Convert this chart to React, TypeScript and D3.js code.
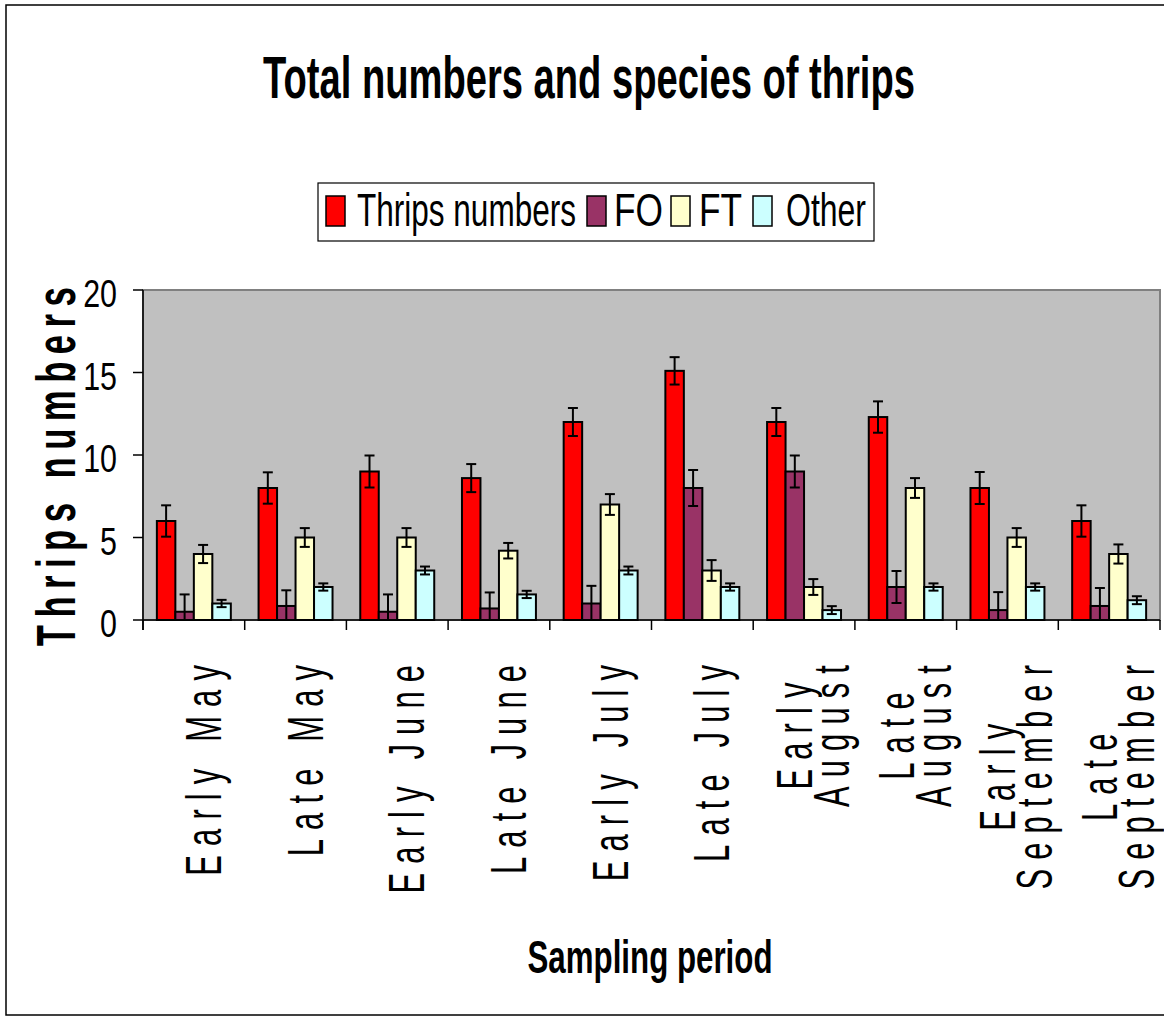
import * as d3 from 'd3';

const categories = [
  'Early May', 'Late May', 'Early June', 'Late June', 'Early July',
  'Late July', 'Early August', 'Late August', 'Early September', 'Late September',
];
// how each category label is broken over lines on the axis
const tickLines = [
  ['Early May'], ['Late May'], ['Early June'], ['Late June'], ['Early July'],
  ['Late July'], ['Early', 'August'], ['Late', 'August'], ['Early', 'September'], ['Late', 'September'],
];

const seriesNames = ['Thrips numbers', 'FO', 'FT', 'Other'];
const seriesColors = ['#FF0000', '#993366', '#FFFFCC', '#CCFFFF'];

const thrips = [6, 8, 9, 8.6, 12, 15.1, 12, 12.3, 8, 6];
const fo = [0.5, 0.85, 0.5, 0.7, 1, 8, 9, 2, 0.6, 0.85];
const ft = [4, 5, 5, 4.2, 7, 3, 2, 8, 5, 4];
const other = [1, 2, 3, 1.55, 3, 2, 0.6, 2, 2, 1.2];

const thripsErr = [0.95, 0.95, 0.97, 0.85, 0.85, 0.83, 0.85, 0.95, 0.97, 0.95];
const foErr = [1.05, 0.95, 1.05, 0.97, 1.07, 1.09, 0.97, 0.97, 1.09, 1.09];
const ftErr = [0.55, 0.57, 0.57, 0.47, 0.63, 0.63, 0.48, 0.6, 0.57, 0.58];
const otherErr = [0.22, 0.22, 0.24, 0.22, 0.24, 0.22, 0.24, 0.22, 0.22, 0.24];

const yTicks = [0, 5, 10, 15, 20];

const values = [thrips, fo, ft, other];
const errors = [thripsErr, foErr, ftErr, otherErr];

const W = 1164;
const H = 1019;
const plot = { left: 143, right: 1160, top: 290, bottom: 620 };
const FONT = "'Liberation Sans', Arial, sans-serif";

// x labels: spaced-out, squeezed text
const LBL_SIZE = 50;
const LBL_SX = 0.62;
const LBL_LS = 14.7;

let ctx: CanvasRenderingContext2D | null = null;
function measure(s: string, font: string) {
  if (!ctx) ctx = document.createElement('canvas').getContext('2d');
  if (!ctx) return s.length * 25;
  ctx.font = font;
  return ctx.measureText(s).width;
}

// squeeze a horizontal text to a given width
function Fitted(props: { x: number; y: number; w: number; size: number; bold?: boolean; anchor?: string; children: string }) {
  const font = `${props.bold ? 'bold ' : ''}${props.size}px ${FONT}`;
  const sx = props.w / measure(props.children, font);
  return (
    <text transform={`translate(${props.x},${props.y}) scale(${sx},1)`} textAnchor={props.anchor || 'start'}
      fontFamily={FONT} fontWeight={props.bold ? 'bold' : 'normal'} fontSize={props.size}>
      {props.children}
    </text>
  );
}

// legend layout
const legendSwatchX = [326, 587, 671, 753];
const legendTextX = [357, 614, 699, 786];
const legendTextW = [219, 49, 43, 80];

export default function App() {
  const x = d3.scaleBand<string>().domain(categories).range([plot.left, plot.right]);
  const xs = d3.scaleBand<string>().domain(seriesNames).range([0, x.bandwidth()]).paddingOuter(0.75);
  const y = d3.scaleLinear().domain([0, 20]).range([plot.bottom, plot.top]);

  const boundaries = categories.map((c) => x(c)!).concat([plot.right]);

  return (
    <svg width={W} height={H} style={{ position: 'absolute', left: 0, top: 0, background: '#fff' }}>
      <defs>
        <clipPath id="plotclip">
          <rect x={plot.left} y={plot.top} width={plot.right - plot.left} height={plot.bottom - plot.top} />
        </clipPath>
      </defs>
      {/* chart border */}
      <rect x={6} y={5} width={1200} height={1010} fill="none" stroke="#000" strokeWidth={1.5} />

      <Fitted x={589} y={98} w={652} size={60} bold anchor="middle">
        Total numbers and species of thrips
      </Fitted>

      {/* legend */}
      <rect x={318} y={183} width={556} height={58} fill="#fff" stroke="#000" strokeWidth={1.2} />
      {seriesNames.map((s, i) => (
        <g key={s}>
          <rect x={legendSwatchX[i]} y={196} width={19} height={30} fill={seriesColors[i]} stroke="#000" strokeWidth={1.5} />
          <Fitted x={legendTextX[i]} y={226} w={legendTextW[i]} size={46}>{s}</Fitted>
        </g>
      ))}

      {/* plot area */}
      <rect x={plot.left} y={plot.top} width={plot.right - plot.left} height={plot.bottom - plot.top}
        fill="#C0C0C0" stroke="#808080" strokeWidth={2} />

      {/* bars */}
      {categories.map((c, ci) => (
        <g key={c} transform={`translate(${x(c)},0)`}>
          {seriesNames.map((s, si) => (
            <rect key={s} x={xs(s)} y={y(values[si][ci])} width={xs.bandwidth()}
              height={y(0) - y(values[si][ci])} fill={seriesColors[si]} stroke="#000" strokeWidth={2} />
          ))}
        </g>
      ))}

      {/* error bars */}
      <g clipPath="url(#plotclip)" stroke="#000" strokeWidth={2}>
        {categories.map((c, ci) =>
          seriesNames.map((s, si) => {
            const cx = x(c)! + xs(s)! + xs.bandwidth() / 2;
            const v = values[si][ci];
            const e = errors[si][ci];
            const hi = y(v + e);
            const lo = y(v - e);
            return (
              <g key={c + s}>
                <line x1={cx} x2={cx} y1={hi} y2={lo} />
                <line x1={cx - 5} x2={cx + 5} y1={hi} y2={hi} />
                <line x1={cx - 5} x2={cx + 5} y1={lo} y2={lo} />
              </g>
            );
          })
        )}
      </g>

      {/* axes */}
      <line x1={plot.left} x2={plot.left} y1={plot.top} y2={plot.bottom + 10} stroke="#000" strokeWidth={1.5} />
      <line x1={plot.left} x2={plot.right} y1={plot.bottom} y2={plot.bottom} stroke="#000" strokeWidth={1.5} />
      {yTicks.map((t) => (
        <g key={t}>
          <line x1={plot.left - 10} x2={plot.left} y1={y(t)} y2={y(t)} stroke="#000" strokeWidth={1.5} />
          <text transform={`translate(117,${y(t) + 17}) scale(0.8,1)`} textAnchor="end"
            fontFamily={FONT} fontSize={38}>{t}</text>
        </g>
      ))}
      {boundaries.map((b, i) => (
        <line key={i} x1={b} x2={b} y1={plot.bottom} y2={plot.bottom + 10} stroke="#000" strokeWidth={1.5} />
      ))}

      {/* category labels */}
      {categories.map((c, ci) => {
        const lines = tickLines[ci];
        const cxm = x(c)! + x.bandwidth() / 2;
        const font = `${LBL_SIZE}px ${FONT}`;
        const inkLen = (s: string) => LBL_SX * (measure(s, font) + (s.length - 1) * LBL_LS);
        const maxLen = d3.max(lines, inkLen) || 0;
        const center = 665 + maxLen / 2 - (LBL_SX * LBL_LS) / 2;
        const n = lines.length;
        return (
          <g key={c}>
            {lines.map((ln, k) => (
              <text key={k}
                transform={`translate(${cxm + 27 - (n - 1) * 19 + k * 37},${center}) rotate(-90) scale(${LBL_SX},1)`}
                textAnchor="middle" fontFamily={FONT} fontSize={LBL_SIZE} letterSpacing={LBL_LS}>
                {ln}
              </text>
            ))}
          </g>
        );
      })}

      {/* axis titles */}
      <text transform={`translate(75,${467 - 4}) rotate(-90) scale(0.62,1)`} textAnchor="middle"
        fontFamily={FONT} fontWeight="bold" fontSize={56} letterSpacing={12}>
        Thrips numbers
      </text>
      <Fitted x={650} y={973} w={245} size={46} bold anchor="middle">
        Sampling period
      </Fitted>
    </svg>
  );
}
